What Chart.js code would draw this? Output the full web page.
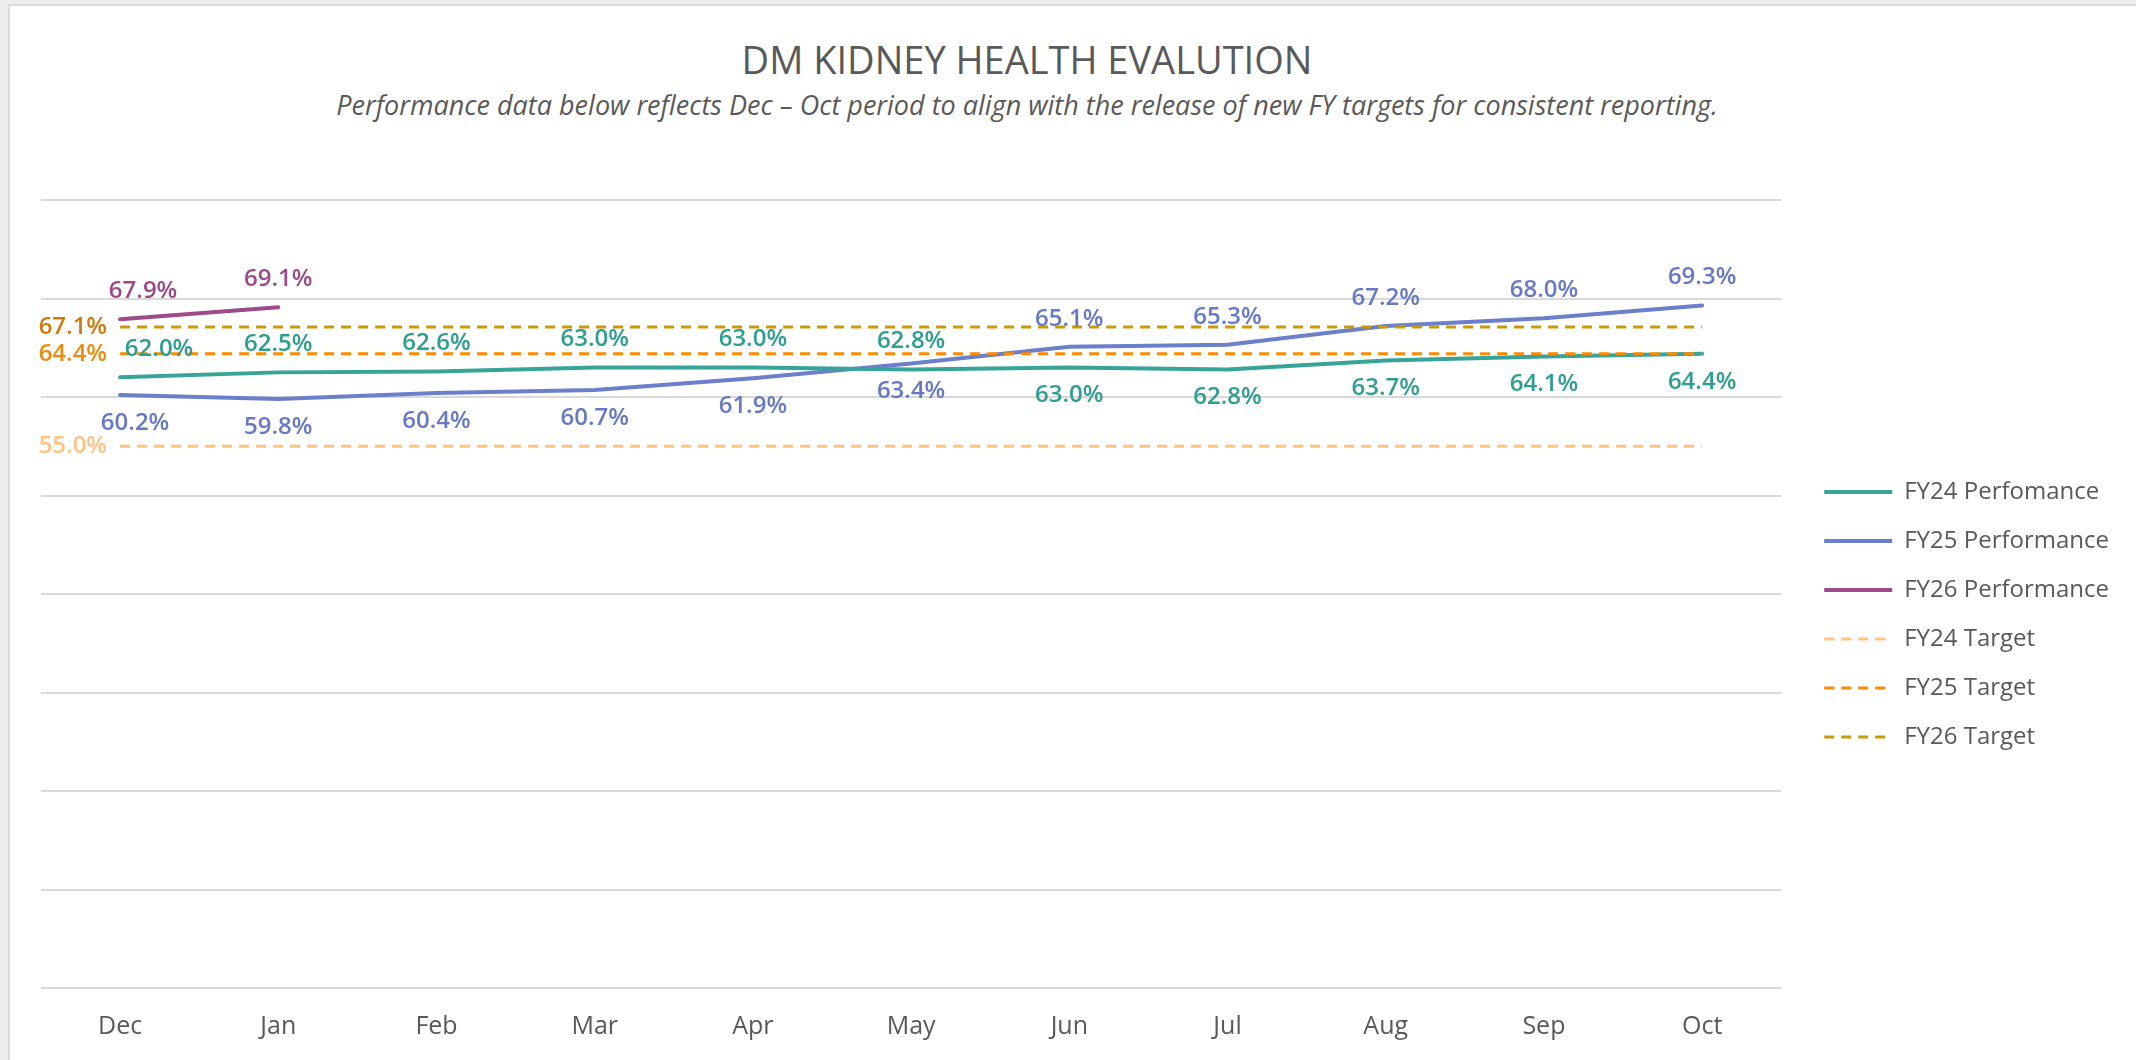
<!DOCTYPE html>
<html>
<head>
<meta charset="utf-8">
<title>DM Kidney Health Evalution</title>
<script src="https://cdn.jsdelivr.net/npm/chart.js@4.4.0/dist/chart.umd.min.js"></script>
<style>
  html, body { margin: 0; padding: 0; }
  body { width: 2136px; height: 1060px; position: relative; overflow: hidden; background: #ededed; font-family: "Open Sans", sans-serif; }
  #frame { position: absolute; left: 8px; top: 4px; right: 0; bottom: 0; background: #fff; border-left: 2px solid #dcdcdc; border-top: 2px solid #d9d9d9; }
  #wrap { position: absolute; left: 0; top: 0; width: 2136px; height: 1060px; }
  .head { position: absolute; left: 0; width: 2054px; text-align: center; color: #595959; white-space: nowrap; }
  #title { top: 39px; font-size: 38px; line-height: 40px; }
  #subtitle { top: 90px; font-size: 27px; line-height: 30px; font-style: italic; }
</style>
</head>
<body>
<div id="frame"></div>
<div class="head" id="title">DM KIDNEY HEALTH EVALUTION</div>
<div class="head" id="subtitle">Performance data below reflects Dec – Oct period to align with the release of new FY targets for consistent reporting.</div>
<div id="wrap"><canvas id="chart"></canvas></div>
<script>
// values
const months = ['Dec', 'Jan', 'Feb', 'Mar', 'Apr', 'May', 'Jun', 'Jul', 'Aug', 'Sep', 'Oct'];
const fy24Perf = [62.0, 62.5, 62.6, 63.0, 63.0, 62.8, 63.0, 62.8, 63.7, 64.1, 64.4];
const fy25Perf = [60.2, 59.8, 60.4, 60.7, 61.9, 63.4, 65.1, 65.3, 67.2, 68.0, 69.3];
const fy26Perf = [67.9, 69.1, null, null, null, null, null, null, null, null, null];
const fy24Target = [55.0, 55.0, 55.0, 55.0, 55.0, 55.0, 55.0, 55.0, 55.0, 55.0, 55.0];
const fy25Target = [64.4, 64.4, 64.4, 64.4, 64.4, 64.4, 64.4, 64.4, 64.4, 64.4, 64.4];
const fy26Target = [67.1, 67.1, 67.1, 67.1, 67.1, 67.1, 67.1, 67.1, 67.1, 67.1, 67.1];
const yTicks = [0, 10, 20, 30, 40, 50, 60, 70, 80];

// where each value label sits, relative to its point
const fy24Sides = ['up', 'up', 'up', 'up', 'up', 'up', 'down', 'down', 'down', 'down', 'down'];
const fy25Sides = ['down', 'down', 'down', 'down', 'down', 'down', 'up', 'up', 'up', 'up', 'up'];
const fy26Sides = ['up', 'up'];

const valueLabels = {
  id: 'valueLabels',
  afterDatasetsDraw(chart) {
    const ctx = chart.ctx;
    ctx.save();
    ctx.font = '600 24px "Open Sans"';
    ctx.textBaseline = 'middle';
    chart.data.datasets.forEach((ds, i) => {
      const meta = chart.getDatasetMeta(i);
      meta.data.forEach((pt, j) => {
        const v = ds.data[j];
        if (v == null) return;
        const text = v.toFixed(1) + '%';
        ctx.fillStyle = ds.labelColor;
        if (ds.isTarget) {
          if (j !== 0) return;
          ctx.textAlign = 'right';
          ctx.fillText(text, pt.x - 13, pt.y);
          return;
        }
        ctx.textAlign = 'center';
        const dy = ds.labelSides[j] === 'up' ? -28 : 28;
        const dx = j === 0 ? ds.firstShift : 0;
        ctx.fillText(text, pt.x + dx, pt.y + dy);
      });
    });
    ctx.restore();
  }
};

function perfLine(label, data, color, labelColor, sides, firstShift) {
  return {
    label, data,
    borderColor: color, backgroundColor: color,
    borderWidth: 4, pointRadius: 0, tension: 0,
    borderJoinStyle: 'round', borderCapStyle: 'round',
    spanGaps: false, order: 2,
    labelColor, labelSides: sides, firstShift
  };
}

function targetLine(label, data, color, labelColor) {
  return {
    label, data,
    borderColor: color, backgroundColor: color,
    borderWidth: 3, borderDash: [10, 7], pointRadius: 0,
    order: 1, isTarget: true, labelColor
  };
}

new Chart(document.getElementById('chart'), {
  type: 'line',
  data: {
    labels: months,
    datasets: [
      perfLine('FY24 Perfomance', fy24Perf, '#36A597', '#2E9E8F', fy24Sides, 39),
      perfLine('FY25 Performance', fy25Perf, '#6B7FCB', '#6779C4', fy25Sides, 15),
      perfLine('FY26 Performance', fy26Perf, '#9E4A8B', '#9A4A88', fy26Sides, 23),
      targetLine('FY24 Target', fy24Target, '#FFC27F', '#FFC283'),
      targetLine('FY25 Target', fy25Target, '#FF8A00', '#F08A0C'),
      targetLine('FY26 Target', fy26Target, '#C99A06', '#CF7A0A')
    ]
  },
  options: {
    responsive: true,
    maintainAspectRatio: false,
    animation: false,
    layout: { padding: { left: 41, top: 200, right: 17, bottom: 18 } },
    scales: {
      x: {
        offset: true,
        grid: { display: false, drawTicks: false },
        border: { display: false },
        ticks: { color: '#595959', font: { family: 'Open Sans', size: 25 }, padding: 24 },
        afterFit: (s) => { s.height = 54; }
      },
      y: {
        min: yTicks[0], max: yTicks[yTicks.length - 1],
        afterBuildTicks: (s) => { s.ticks = yTicks.map(v => ({ value: v })); },
        grid: { color: '#d9d9d9', lineWidth: 2, drawTicks: false },
        border: { display: false },
        ticks: { display: false }
      },
      gap: {
        type: 'linear', position: 'right',
        grid: { display: false, drawTicks: false },
        border: { display: false },
        ticks: { display: false },
        afterFit: (s) => { s.width = 18; }
      }
    },
    plugins: {
      legend: {
        position: 'right',
        align: 'center',
        fullSize: false,
        title: { display: true, text: ' ', font: { size: 10 }, padding: { top: 0, bottom: 29 } },
        labels: {
          usePointStyle: true,
          pointStyle: 'line',
          pointStyleWidth: 68,
          color: '#595959',
          font: { family: 'Open Sans', size: 24 },
          padding: 25,
          sort: (a, b) => a.datasetIndex - b.datasetIndex,
          generateLabels: (chart) => {
            const items = Chart.defaults.plugins.legend.labels.generateLabels(chart);
            items.forEach(it => {
              const ds = chart.data.datasets[it.datasetIndex];
              it.lineDash = ds.borderDash || [];
              it.lineWidth = ds.borderWidth;
              it.strokeStyle = ds.borderColor;
            });
            return items;
          }
        }
      },
      title: { display: false },
      tooltip: { enabled: false }
    }
  },
  plugins: [valueLabels]
});
</script>
</body>
</html>
